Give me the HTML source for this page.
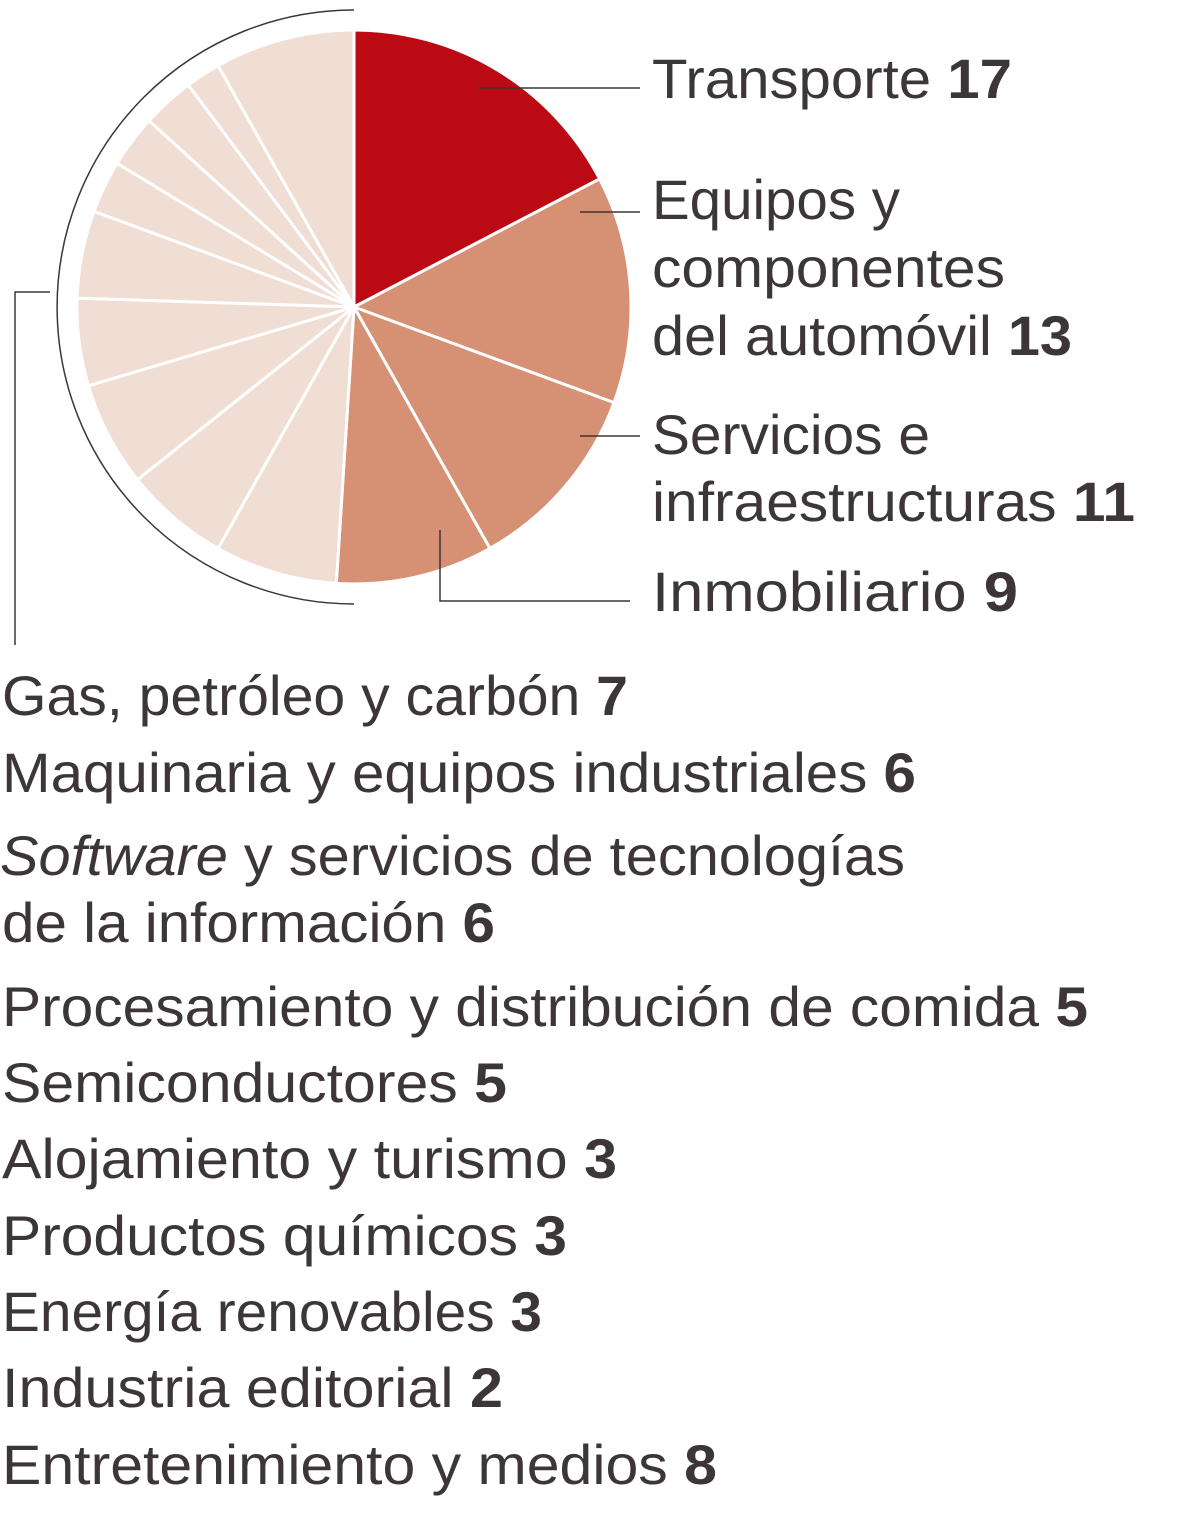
<!DOCTYPE html>
<html><head><meta charset="utf-8"><style>
html,body{margin:0;padding:0;background:#fff;}
svg{display:block}
text{font-family:"Liberation Sans",sans-serif;font-size:56px;fill:#3d3639;}
.b{font-weight:bold}
</style></head><body>
<svg width="1200" height="1537" viewBox="0 0 1200 1537">
<g stroke="#fff" stroke-width="3" stroke-linejoin="round">
<path d="M354,307 L354,30 A277,277 0 0 1 599.6,178.9 Z" fill="#bb0a14"/>
<path d="M354,307 L599.6,178.9 A277,277 0 0 1 614,402.6 Z" fill="#d69073"/>
<path d="M354,307 L614,402.6 A277,277 0 0 1 489.9,548.4 Z" fill="#d69073"/>
<path d="M354,307 L489.9,548.4 A277,277 0 0 1 336.3,583.4 Z" fill="#d69073"/>
<path d="M354,307 L336.3,583.4 A277,277 0 0 1 218.05,548.4 Z" fill="#f0ddd3"/>
<path d="M354,307 L218.05,548.4 A277,277 0 0 1 137.5,479.7 Z" fill="#f0ddd3"/>
<path d="M354,307 L137.5,479.7 A277,277 0 0 1 88.4,385.8 Z" fill="#f0ddd3"/>
<path d="M354,307 L88.4,385.8 A277,277 0 0 1 77.1,298.1 Z" fill="#f0ddd3"/>
<path d="M354,307 L77.1,298.1 A277,277 0 0 1 94,211.4 Z" fill="#f0ddd3"/>
<path d="M354,307 L94,211.4 A277,277 0 0 1 117.1,163.4 Z" fill="#f0ddd3"/>
<path d="M354,307 L117.1,163.4 A277,277 0 0 1 149,120.7 Z" fill="#f0ddd3"/>
<path d="M354,307 L149,120.7 A277,277 0 0 1 188.3,85 Z" fill="#f0ddd3"/>
<path d="M354,307 L188.3,85 A277,277 0 0 1 218.05,65.7 Z" fill="#f0ddd3"/>
<path d="M354,307 L218.05,65.7 A277,277 0 0 1 354,30 Z" fill="#f0ddd3"/>
</g>
<g fill="none" stroke="#3d3639" stroke-width="1.5">
<path d="M354,10 A297,297 0 0 0 354,604"/>
<path d="M50,292 L15,292 L15,645"/>
<path d="M478,88 L640,88"/>
<path d="M580,212 L640,212"/>
<path d="M580,436 L640,436"/>
<path d="M440,530 L440,601 L630,601"/>
</g>
<text x="652" y="98" textLength="360" lengthAdjust="spacingAndGlyphs">Transporte <tspan class="b">17</tspan></text>
<text x="652" y="219" textLength="248" lengthAdjust="spacingAndGlyphs">Equipos y</text>
<text x="652" y="287" textLength="353" lengthAdjust="spacingAndGlyphs">componentes</text>
<text x="652" y="355" textLength="420" lengthAdjust="spacingAndGlyphs">del automóvil <tspan class="b">13</tspan></text>
<text x="652" y="454" textLength="278" lengthAdjust="spacingAndGlyphs">Servicios e</text>
<text x="652" y="521" textLength="483" lengthAdjust="spacingAndGlyphs">infraestructuras <tspan class="b">11</tspan></text>
<text x="652" y="611" textLength="366" lengthAdjust="spacingAndGlyphs">Inmobiliario  <tspan class="b">9</tspan></text>
<text x="2" y="715" textLength="626" lengthAdjust="spacingAndGlyphs">Gas, petróleo y carbón <tspan class="b">7</tspan></text>
<text x="2" y="792" textLength="914" lengthAdjust="spacingAndGlyphs">Maquinaria y equipos industriales <tspan class="b">6</tspan></text>
<text x="0" y="875" textLength="905" lengthAdjust="spacingAndGlyphs"><tspan font-style="italic">Software</tspan> y servicios de tecnologías</text>
<text x="2" y="942" textLength="493" lengthAdjust="spacingAndGlyphs">de la información <tspan class="b">6</tspan></text>
<text x="2" y="1026" textLength="1086" lengthAdjust="spacingAndGlyphs">Procesamiento y distribución de comida <tspan class="b">5</tspan></text>
<text x="2" y="1102" textLength="505" lengthAdjust="spacingAndGlyphs">Semiconductores <tspan class="b">5</tspan></text>
<text x="2" y="1178" textLength="615" lengthAdjust="spacingAndGlyphs">Alojamiento y turismo <tspan class="b">3</tspan></text>
<text x="2" y="1255" textLength="565" lengthAdjust="spacingAndGlyphs">Productos químicos <tspan class="b">3</tspan></text>
<text x="2" y="1331" textLength="540" lengthAdjust="spacingAndGlyphs">Energía renovables <tspan class="b">3</tspan></text>
<text x="2" y="1407" textLength="501" lengthAdjust="spacingAndGlyphs">Industria editorial <tspan class="b">2</tspan></text>
<text x="2" y="1484" textLength="715" lengthAdjust="spacingAndGlyphs">Entretenimiento y medios <tspan class="b">8</tspan></text>
</svg>
</body></html>
